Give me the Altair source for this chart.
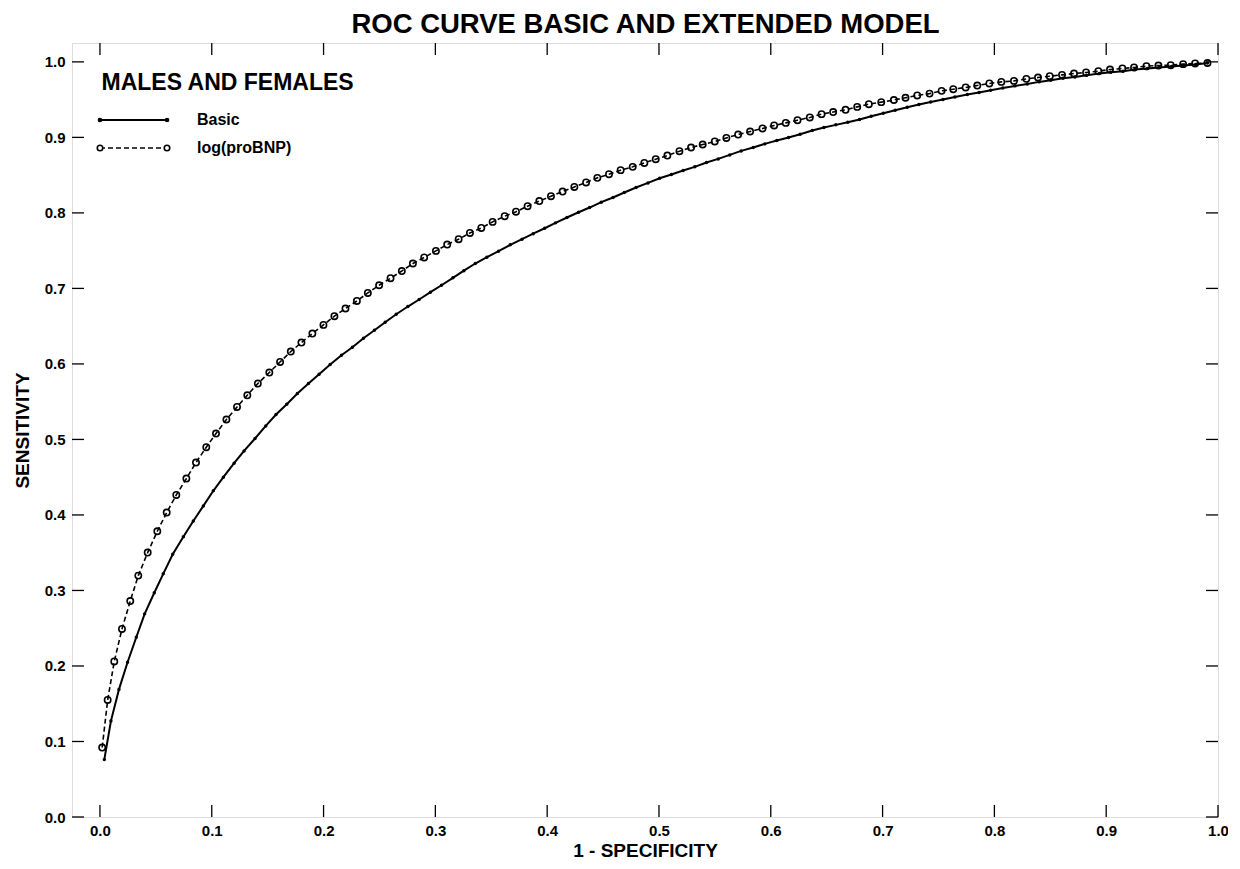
import altair as alt
import pandas as pd

# ---------------- data ----------------
basic_fpr = [0.0039, 0.0098, 0.017, 0.0247, 0.0325, 0.04, 0.0486, 0.0566, 0.0651, 0.0746,
             0.0835, 0.0925, 0.1014, 0.1104, 0.12, 0.1289, 0.1387, 0.1483, 0.1575, 0.1671,
             0.1766, 0.1865, 0.196, 0.2059, 0.216, 0.2258, 0.2357, 0.2455, 0.2551, 0.265,
             0.2754, 0.2855, 0.2956, 0.3055, 0.3157, 0.3255, 0.3357, 0.3461, 0.3565, 0.367,
             0.3775, 0.3875, 0.3978, 0.4075, 0.4177, 0.4281, 0.438, 0.4484, 0.4589, 0.469,
             0.4795, 0.4902, 0.5006, 0.5111, 0.5216, 0.532, 0.5425, 0.553, 0.5633, 0.5735,
             0.5843, 0.5946, 0.6054, 0.6159, 0.6263, 0.6371, 0.6475, 0.6582, 0.6689, 0.6794,
             0.6898, 0.7006, 0.7113, 0.7221, 0.7325, 0.743, 0.754, 0.7647, 0.7758, 0.7863,
             0.7967, 0.8075, 0.8184, 0.8295, 0.8399, 0.8504, 0.8614, 0.8721, 0.8826, 0.8939,
             0.9041, 0.9151, 0.9258, 0.9369, 0.9473, 0.9584, 0.9691, 0.9801, 0.9906]
basic_tpr = [0.076, 0.127, 0.169, 0.205, 0.238, 0.269, 0.297, 0.322, 0.348, 0.371,
             0.392, 0.412, 0.432, 0.450, 0.4685, 0.4848, 0.5012, 0.5179, 0.533, 0.5466,
             0.5608, 0.574, 0.5864, 0.5992, 0.6115, 0.622, 0.634, 0.6446, 0.6552, 0.6658,
             0.676, 0.6853, 0.695, 0.7042, 0.714, 0.7235, 0.733, 0.7413, 0.7493, 0.7577,
             0.7652, 0.7725, 0.7797, 0.7868, 0.7939, 0.8009, 0.8071, 0.8142, 0.8204, 0.827,
             0.8336, 0.8397, 0.8459, 0.8508, 0.8561, 0.861, 0.8667, 0.8715, 0.8768, 0.8821,
             0.8866, 0.8914, 0.8959, 0.8999, 0.9042, 0.9091, 0.9131, 0.9166, 0.9201, 0.9237,
             0.928, 0.932, 0.936, 0.940, 0.9435, 0.947, 0.9502, 0.9536, 0.9568, 0.9594,
             0.9625, 0.9655, 0.9682, 0.9708, 0.9735, 0.9758, 0.9784, 0.9801, 0.9824, 0.9846,
             0.9864, 0.9877, 0.9899, 0.9913, 0.9926, 0.9939, 0.9952, 0.9966, 0.9985]

bnp_fpr = [0.002, 0.0069, 0.0128, 0.0197, 0.0271, 0.0343, 0.0427, 0.0513, 0.0597, 0.0683,
           0.0773, 0.0859, 0.0951, 0.1038, 0.1131, 0.1226, 0.1318, 0.1412, 0.1515, 0.1611,
           0.1707, 0.1802, 0.19, 0.1999, 0.2097, 0.2196, 0.2298, 0.2396, 0.2497, 0.2599,
           0.27, 0.2799, 0.29, 0.3005, 0.3106, 0.3208, 0.3309, 0.3411, 0.3512, 0.362,
           0.3721, 0.3825, 0.393, 0.4034, 0.4138, 0.4243, 0.4348, 0.4449, 0.4553, 0.4657,
           0.4765, 0.4869, 0.4971, 0.5075, 0.5183, 0.5287, 0.5391, 0.5499, 0.5603, 0.5708,
           0.5815, 0.5926, 0.603, 0.6134, 0.6239, 0.6349, 0.6454, 0.6558, 0.6669, 0.6773,
           0.6877, 0.6988, 0.7101, 0.7205, 0.731, 0.742, 0.7528, 0.7632, 0.7743, 0.7847,
           0.7955, 0.8062, 0.8175, 0.8286, 0.839, 0.8495, 0.8605, 0.8712, 0.882, 0.893,
           0.9034, 0.9145, 0.9249, 0.936, 0.9467, 0.9577, 0.9688, 0.9795, 0.9906]
bnp_tpr = [0.092, 0.155, 0.206, 0.249, 0.286, 0.3197, 0.3502, 0.3784, 0.4032, 0.4265,
           0.4482, 0.4694, 0.4897, 0.5078, 0.5264, 0.543, 0.5585, 0.574, 0.5886, 0.6026,
           0.6164, 0.6283, 0.6402, 0.6517, 0.6632, 0.6734, 0.6834, 0.694, 0.7042, 0.7135,
           0.723, 0.733, 0.741, 0.7497, 0.7581, 0.7652, 0.7735, 0.7801, 0.7881, 0.7956,
           0.8016, 0.8089, 0.8157, 0.8221, 0.8283, 0.8344, 0.8403, 0.8464, 0.8513, 0.8566,
           0.861, 0.8662, 0.8711, 0.876, 0.8817, 0.8866, 0.8906, 0.8946, 0.8993, 0.9038,
           0.9078, 0.9118, 0.9158, 0.9192, 0.9228, 0.9264, 0.9308, 0.9336, 0.9365, 0.9404,
           0.944, 0.9467, 0.9495, 0.9525, 0.9555, 0.958, 0.9616, 0.9638, 0.9661, 0.9687,
           0.9714, 0.9735, 0.9748, 0.9775, 0.9793, 0.981, 0.9828, 0.9846, 0.986, 0.9877,
           0.9899, 0.9913, 0.9926, 0.9943, 0.9952, 0.9956, 0.997, 0.9979, 0.9985]

tick_values = [0.0, 0.1, 0.2, 0.3, 0.4, 0.5, 0.6, 0.7, 0.8, 0.9, 1.0]

chart_title = "ROC CURVE BASIC AND EXTENDED MODEL"
x_title = "1 - SPECIFICITY"
y_title = "SENSITIVITY"
legend_header = "MALES AND FEMALES"
series_names = ["Basic", "log(proBNP)"]

# ---------------- layout / style ----------------
W, H = 1146, 774
TICK = 12
FONT = "Liberation Sans"

basic = pd.DataFrame({"fpr": basic_fpr, "tpr": basic_tpr, "ord": list(range(len(basic_fpr)))})
bnp = pd.DataFrame({"fpr": bnp_fpr, "tpr": bnp_tpr, "ord": list(range(len(bnp_fpr)))})
ticks = pd.DataFrame({"v": tick_values})
one = pd.DataFrame({"a": [1]})

xs = alt.Scale(domain=[-0.025, 1.0], nice=False, zero=False)
ys = alt.Scale(domain=[0.0, 1.025], nice=False, zero=False)

x_axis = alt.Axis(values=tick_values, format=".1f", title=x_title, ticks=False, domain=False,
                  grid=False, labelFlush=False, labelOverlap=False, labelPadding=6,
                  titlePadding=3, labelFontSize=15, titleFontSize=19, labelFont=FONT,
                  titleFont=FONT, labelFontWeight="bold", titleFontWeight="bold",
                  labelColor="black", titleColor="black")
y_axis = alt.Axis(values=tick_values, format=".1f", title=y_title, ticks=False, domain=False,
                  grid=False, labelFlush=False, labelOverlap=False, labelPadding=7,
                  titlePadding=12, labelFontSize=15, titleFontSize=19, labelFont=FONT,
                  titleFont=FONT, labelFontWeight="bold", titleFontWeight="bold",
                  labelColor="black", titleColor="black")

X = lambda f: alt.X(f, scale=xs, axis=x_axis)
Y = lambda f: alt.Y(f, scale=ys, axis=y_axis)

basic_line = alt.Chart(basic).mark_line(color="black", strokeWidth=2).encode(
    x=X("fpr:Q"), y=Y("tpr:Q"), order="ord:Q")
basic_pts = alt.Chart(basic).mark_circle(color="black", size=12, opacity=1).encode(
    x=X("fpr:Q"), y=Y("tpr:Q"))
bnp_line = alt.Chart(bnp).mark_line(color="black", strokeWidth=1.6, strokeDash=[5, 3]).encode(
    x=X("fpr:Q"), y=Y("tpr:Q"), order="ord:Q")
bnp_pts = alt.Chart(bnp).mark_point(shape="circle", size=40, filled=False, color="black",
                                    strokeWidth=1.6, opacity=1).encode(
    x=X("fpr:Q"), y=Y("tpr:Q"))

# inward ticks on all four sides
tick_style = dict(color="black", strokeWidth=1.3)
t_bottom = alt.Chart(ticks).mark_rule(**tick_style).encode(
    x=X("v:Q"), y=alt.value(H), y2=alt.value(H - TICK))
t_top = alt.Chart(ticks).mark_rule(**tick_style).encode(
    x=X("v:Q"), y=alt.value(0), y2=alt.value(TICK))
t_left = alt.Chart(ticks).mark_rule(**tick_style).encode(
    y=Y("v:Q"), x=alt.value(0), x2=alt.value(TICK))
t_right = alt.Chart(ticks).mark_rule(**tick_style).encode(
    y=Y("v:Q"), x=alt.value(W - TICK), x2=alt.value(W))

# chart title as a text mark above the frame
title_mark = alt.Chart(one).mark_text(font=FONT, fontSize=27.5, fontWeight="bold", align="center",
                                      baseline="alphabetic", color="black").encode(
    x=alt.value(W / 2 + 0.5), y=alt.value(-10), text=alt.value(chart_title))

# hand-drawn legend
LX0, LX1, LTX = 28, 95, 125
LY1, LY2 = 77, 105
leg_head = alt.Chart(one).mark_text(font=FONT, fontSize=23, fontWeight="bold", align="left",
                                    baseline="alphabetic", color="black").encode(
    x=alt.value(29.5), y=alt.value(47), text=alt.value(legend_header))
leg_l1 = alt.Chart(one).mark_rule(color="black", strokeWidth=2).encode(
    x=alt.value(LX0), x2=alt.value(LX1), y=alt.value(LY1))
leg_p1a = alt.Chart(one).mark_circle(color="black", size=22, opacity=1).encode(
    x=alt.value(LX0), y=alt.value(LY1))
leg_p1b = alt.Chart(one).mark_circle(color="black", size=22, opacity=1).encode(
    x=alt.value(LX1), y=alt.value(LY1))
leg_t1 = alt.Chart(one).mark_text(font=FONT, fontSize=16, fontWeight="bold", align="left",
                                  baseline="middle", color="black").encode(
    x=alt.value(LTX), y=alt.value(LY1), text=alt.value(series_names[0]))
leg_l2 = alt.Chart(one).mark_rule(color="black", strokeWidth=1.6, strokeDash=[5, 3]).encode(
    x=alt.value(LX0), x2=alt.value(LX1), y=alt.value(LY2))
leg_p2a = alt.Chart(one).mark_point(shape="circle", size=30, filled=False, fill="white",
                                    color="black", strokeWidth=1.6, opacity=1).encode(
    x=alt.value(LX0), y=alt.value(LY2))
leg_p2b = alt.Chart(one).mark_point(shape="circle", size=30, filled=False, fill="white",
                                    color="black", strokeWidth=1.6, opacity=1).encode(
    x=alt.value(LX1), y=alt.value(LY2))
leg_t2 = alt.Chart(one).mark_text(font=FONT, fontSize=16, fontWeight="bold", align="left",
                                  baseline="middle", color="black").encode(
    x=alt.value(LTX), y=alt.value(LY2), text=alt.value(series_names[1]))

chart = alt.layer(
    basic_line, bnp_line, basic_pts, bnp_pts,
    t_bottom, t_top, t_left, t_right, title_mark,
    leg_head, leg_l1, leg_p1a, leg_p1b, leg_t1, leg_l2, leg_p2a, leg_p2b, leg_t2,
).properties(
    width=W, height=H,
    autosize=alt.AutoSizeParams(type="none"),
    padding={"left": 64, "top": 35, "right": 10, "bottom": 44},
).configure_view(stroke="black", strokeWidth=1.5).configure(background="white")

chart.save("out.html", embed_options={"renderer": "svg", "actions": False})
